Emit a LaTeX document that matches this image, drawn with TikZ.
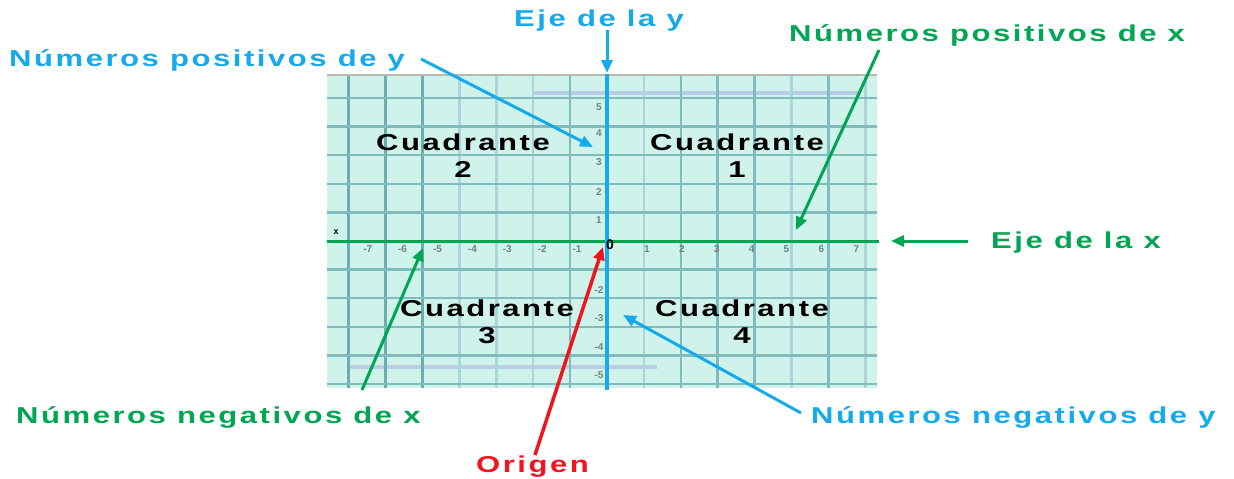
\documentclass[tikz,border=0pt]{standalone}
\usepackage{fontspec}
\setmainfont{Liberation Sans}
\newfontfamily\lblfont[FakeStretch=1.35,LetterSpace=11]{Liberation Sans}
\usetikzlibrary{arrows.meta}
\definecolor{cblue}{RGB}{20,170,235}
\definecolor{cgreen}{RGB}{0,166,81}
\definecolor{cred}{RGB}{240,20,30}
\definecolor{bgmint}{RGB}{207,243,235}
\definecolor{gdark}{RGB}{108,174,176}
\definecolor{gmid}{RGB}{128,188,190}
\definecolor{glight}{RGB}{168,214,218}
\definecolor{wmark}{RGB}{185,205,230}
\definecolor{ticktext}{RGB}{115,128,128}
\definecolor{topline}{RGB}{185,185,180}
\begin{document}
\begin{tikzpicture}[x=1pt,y=-1pt,
  lbl/.style={font=\lblfont\bfseries\fontsize{23}{27}\selectfont, inner sep=0pt},
  quad/.style={lbl, text=black, align=center},
  tick/.style={font=\bfseries\fontsize{10}{10}\selectfont, text=ticktext, inner sep=0pt},
  gridline/.style={line width=2.5pt},
  arr/.style={line width=3pt, -{Triangle[length=13pt,width=11pt]}}]
\useasboundingbox (0,0) rectangle (1234,479);
% background grid
\fill[bgmint] (327,75) rectangle (877,388);
\fill[wmark] (533,91) rectangle (858,95);
\fill[wmark] (348,365) rectangle (657,369);
\foreach \k/\c in {-7/gdark,-6/gdark,-5/gdark,-4/glight,-3/glight,-2/glight,-1/gmid,1/glight,2/gmid,3/gmid,4/gmid,5/glight,6/gmid,7/glight}
  \draw[gridline,\c] ({607+36.9*\k},75) -- ({607+36.9*\k},388);
\foreach \k in {-5,-4,-3,-2,-1,1,2,3,4,5}
  \draw[gridline,gmid] (327,{241+28.6*\k}) -- (877,{241+28.6*\k});
\draw[topline,line width=2pt] (327,75) -- (877,75);
% tick labels
\foreach \k in {-7,-6,-5,-4,-3,-2,-1,1,2,3,4,5,6,7}
  \node[tick] (tx\k) at ({612+34.9*\k},249) {\k};
\foreach \v/\yy in {5/107,4/133,3/162,2/192,1/220,-2/290,-3/318,-4/347,-5/375}
  \node[tick] (ty\v) at (599,\yy) {\v};
\node[font=\bfseries\fontsize{9}{9}\selectfont, inner sep=0pt] (xlab) at (336,232) {x};
% axes
\draw[cgreen,line width=3pt] (327,241) -- (879,241);
\draw[cblue,line width=4pt] (607,74) -- (607,390);
\node[font=\bfseries\fontsize{14}{14}\selectfont, inner sep=0pt] (orig0) at (610,245) {0};
% quadrant labels
\node[quad] (q2) at (463,156) {Cuadrante\\2};
\node[quad] (q1) at (737,156) {Cuadrante\\1};
\node[quad] (q3) at (487,322) {Cuadrante\\3};
\node[quad] (q4) at (742,322) {Cuadrante\\4};
% outer labels
\node[lbl,text=cblue,anchor=base west] (ejey) at (514,26) {Eje de la y};
\node[lbl,text=cblue,anchor=base west] (posy) at (9,66) {Números positivos de y};
\node[lbl,text=cgreen,anchor=base west] (posx) at (789,41) {Números positivos de x};
\node[lbl,text=cgreen,anchor=base west] (ejex) at (991,248) {Eje de la x};
\node[lbl,text=cgreen,anchor=base west] (negx) at (16,423) {Números negativos de x};
\node[lbl,text=cblue,anchor=base west] (negy) at (811,423) {Números negativos de y};
\node[lbl,text=cred,anchor=base west] (origen) at (476,472) {Origen};
% arrow end points
\coordinate (ejeyA) at (607,30);  \coordinate (ejeyB) at (607,73);
\coordinate (posyA) at (421,59);  \coordinate (posyB) at (593,147);
\coordinate (posxA) at (879,50);  \coordinate (posxB) at (796,230);
\coordinate (ejexA) at (968,241); \coordinate (ejexB) at (891,241);
\coordinate (negxA) at (362,390); \coordinate (negxB) at (423,248);
\coordinate (origA) at (535,455); \coordinate (origB) at (603,247);
\coordinate (negyA) at (801,413); \coordinate (negyB) at (623,315);
% arrows
\draw[arr,cblue] (ejeyA) -- (ejeyB);
\draw[arr,cblue] (posyA) -- (posyB);
\draw[arr,cgreen] (posxA) -- (posxB);
\draw[arr,cgreen] (ejexA) -- (ejexB);
\draw[arr,cgreen] (negxA) -- (negxB);
\draw[arr,cred,line width=3.5pt] (origA) -- (origB);
\draw[arr,cblue] (negyA) -- (negyB);
\end{tikzpicture}
\end{document}
